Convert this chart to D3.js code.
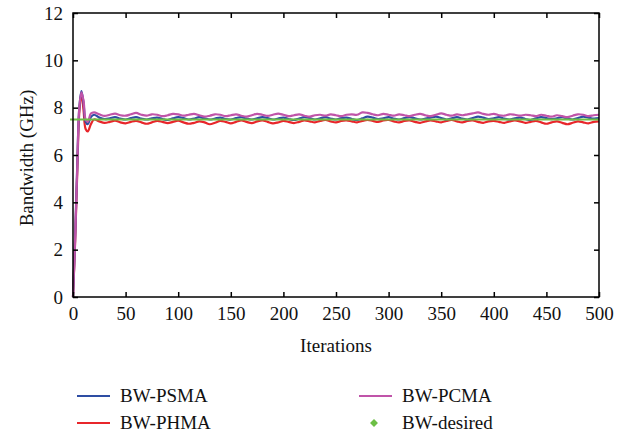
<!DOCTYPE html>
<html>
<head>
<meta charset="utf-8">
<script src="https://cdn.jsdelivr.net/npm/d3@7"></script>
<style>
  body { margin: 0; background: #fff; }
</style>
</head>
<body>
<div></div>
<script>
// iterations (x) shared by all three series
var iterations = [0, 2, 4, 6, 8, 10, 12, 14, 17, 20,
  25, 30, 35, 40, 45, 50, 55, 60, 65, 70, 75, 80, 85, 90, 95, 100,
  105, 110, 115, 120, 125, 130, 135, 140, 145, 150, 155, 160, 165, 170, 175, 180,
  185, 190, 195, 200, 205, 210, 215, 220, 225, 230, 235, 240, 245, 250, 255, 260,
  265, 270, 275, 280, 285, 290, 295, 300, 305, 310, 315, 320, 325, 330, 335, 340,
  345, 350, 355, 360, 365, 370, 375, 380, 385, 390, 395, 400, 405, 410, 415, 420,
  425, 430, 435, 440, 445, 450, 455, 460, 465, 470, 475, 480, 485, 490, 495, 500];

var bwPSMA = [0, 2.5, 5.5, 8.0, 8.7, 8.2, 7.4, 7.3, 7.6, 7.7,
  7.58, 7.52, 7.55, 7.60, 7.54, 7.50, 7.56, 7.60, 7.54, 7.50, 7.55, 7.58, 7.52, 7.48, 7.55, 7.60,
  7.56, 7.50, 7.54, 7.60, 7.55, 7.50, 7.54, 7.58, 7.52, 7.50, 7.56, 7.60, 7.54, 7.50, 7.55, 7.60,
  7.56, 7.50, 7.54, 7.58, 7.52, 7.48, 7.54, 7.60, 7.56, 7.50, 7.55, 7.60, 7.54, 7.50, 7.56, 7.58,
  7.52, 7.48, 7.55, 7.62, 7.58, 7.52, 7.55, 7.60, 7.54, 7.50, 7.56, 7.60, 7.55, 7.50, 7.54, 7.58,
  7.62, 7.56, 7.50, 7.55, 7.60, 7.54, 7.50, 7.56, 7.62, 7.58, 7.52, 7.55, 7.60, 7.54, 7.50, 7.55,
  7.58, 7.52, 7.48, 7.55, 7.60, 7.56, 7.52, 7.55, 7.60, 7.54, 7.50, 7.56, 7.62, 7.58, 7.54, 7.56];

var bwPHMA = [0, 2.3, 5.2, 7.8, 8.6, 7.9, 7.1, 7.0, 7.3, 7.5,
  7.42, 7.36, 7.40, 7.45, 7.38, 7.34, 7.40, 7.44, 7.38, 7.32, 7.38, 7.44, 7.40, 7.35, 7.40, 7.45,
  7.38, 7.32, 7.36, 7.42, 7.38, 7.30, 7.36, 7.44, 7.40, 7.34, 7.40, 7.46, 7.40, 7.35, 7.42, 7.46,
  7.40, 7.34, 7.38, 7.44, 7.40, 7.35, 7.40, 7.46, 7.42, 7.38, 7.44, 7.48, 7.42, 7.38, 7.44, 7.46,
  7.42, 7.38, 7.44, 7.48, 7.44, 7.40, 7.46, 7.48, 7.42, 7.38, 7.44, 7.46, 7.40, 7.36, 7.42, 7.46,
  7.42, 7.38, 7.44, 7.48, 7.42, 7.38, 7.44, 7.46, 7.40, 7.36, 7.42, 7.44, 7.40, 7.36, 7.42, 7.46,
  7.42, 7.36, 7.40, 7.44, 7.38, 7.32, 7.38, 7.42, 7.36, 7.30, 7.36, 7.42, 7.38, 7.34, 7.40, 7.42];

var bwPCMA = [0, 2.4, 5.4, 8.0, 8.65, 8.3, 7.5, 7.4, 7.75, 7.8,
  7.72, 7.65, 7.70, 7.75, 7.68, 7.66, 7.72, 7.78, 7.70, 7.66, 7.72, 7.70, 7.64, 7.68, 7.74, 7.72,
  7.66, 7.70, 7.74, 7.68, 7.62, 7.66, 7.72, 7.70, 7.64, 7.68, 7.72, 7.66, 7.62, 7.68, 7.74, 7.70,
  7.65, 7.70, 7.75, 7.70, 7.64, 7.68, 7.72, 7.66, 7.62, 7.68, 7.70, 7.66, 7.72, 7.68, 7.64, 7.70,
  7.72, 7.70, 7.80, 7.78, 7.72, 7.68, 7.74, 7.70, 7.66, 7.72, 7.68, 7.64, 7.70, 7.74, 7.68, 7.64,
  7.70, 7.76, 7.70, 7.66, 7.72, 7.68, 7.72, 7.76, 7.80, 7.74, 7.70, 7.74, 7.68, 7.66, 7.72, 7.70,
  7.66, 7.70, 7.68, 7.64, 7.70, 7.66, 7.62, 7.68, 7.64, 7.60, 7.66, 7.72, 7.70, 7.64, 7.68, 7.70];

var bwDesired = 7.5;

var xTicks = [0, 50, 100, 150, 200, 250, 300, 350, 400, 450, 500];
var yTicks = [0, 2, 4, 6, 8, 10, 12];

var serif = "Liberation Serif";
var fs = 19;

// set the dimensions and margins of the graph
var margin = {top: 13, right: 34, bottom: 141, left: 73},
    width = 599 - margin.left,
    height = 297 - margin.top;

var x = d3.scaleLinear().domain([0, 500]).range([0, width]);
var y = d3.scaleLinear().domain([0, 12]).range([height, 0]);

var svg = d3.select("body").select("div").append("svg")
    .attr("width", 632)
    .attr("height", 438);

var g = svg.append("g")
    .attr("transform", "translate(" + margin.left + "," + margin.top + ")");

// define the line
var valueline = d3.line()
    .curve(d3.curveCatmullRom)
    .x(function(d) { return x(d[0]); })
    .y(function(d) { return y(d[1]); });

function pairs(vals) {
  return iterations.map(function(it, i) { return [it, vals[i]]; });
}

var series = [
  {name: "BW-PSMA", values: bwPSMA, color: "#2e4da3"},
  {name: "BW-PHMA", values: bwPHMA, color: "#e8262b"},
  {name: "BW-PCMA", values: bwPCMA, color: "#c054a9"}
];

// draw order: red under blue, violet on top, green last
[series[1], series[0], series[2]].forEach(function(s) {
  g.append("path")
    .datum(pairs(s.values))
    .attr("fill", "none")
    .attr("stroke", s.color)
    .attr("stroke-width", 2.2)
    .attr("d", valueline);
});

g.append("line")
  .attr("x1", x(0) - 3).attr("x2", x(500))
  .attr("y1", y(bwDesired)).attr("y2", y(bwDesired))
  .attr("stroke", "#6cbf45")
  .attr("stroke-width", 2);

// axes (ticks inside, mirrored on top and right)
var tl = 5;
function styleAxis(a) {
  a.select(".domain").remove();
  a.selectAll("text").attr("font-size", fs).attr("fill", "#111").style("font-family", serif);
}

g.append("g")
  .attr("transform", "translate(0," + height + ")")
  .call(d3.axisBottom(x).tickValues(xTicks).tickSize(-tl).tickPadding(10))
  .call(styleAxis);

g.append("g")
  .call(d3.axisLeft(y).tickValues(yTicks).tickSize(-tl).tickPadding(10))
  .call(styleAxis);

g.append("g")
  .call(d3.axisTop(x).tickValues(xTicks).tickSize(-tl).tickFormat(""))
  .call(styleAxis);

g.append("g")
  .attr("transform", "translate(" + width + ",0)")
  .call(d3.axisRight(y).tickValues(yTicks).tickSize(-tl).tickFormat(""))
  .call(styleAxis);

g.selectAll(".tick line").attr("stroke", "#000").attr("stroke-width", 1.5);

g.append("rect")
  .attr("width", width).attr("height", height)
  .attr("fill", "none").attr("stroke", "#000").attr("stroke-width", 1.5);

// axis titles
svg.append("text")
  .attr("x", margin.left + width / 2).attr("y", 352)
  .attr("text-anchor", "middle").attr("font-size", fs)
  .style("font-family", serif).attr("fill", "#111")
  .text("Iterations");

svg.append("text")
  .attr("transform", "translate(33,158) rotate(-90)")
  .attr("text-anchor", "middle").attr("font-size", fs)
  .style("font-family", serif).attr("fill", "#111")
  .text("Bandwidth (GHz)");

// legend
var legendItems = [
  {name: "BW-PSMA", color: "#2e4da3", lx: 77, ly: 396, type: "line"},
  {name: "BW-PHMA", color: "#e8262b", lx: 77, ly: 423, type: "line"},
  {name: "BW-PCMA", color: "#c054a9", lx: 359, ly: 396, type: "line"},
  {name: "BW-desired", color: "#6cbf45", lx: 359, ly: 423, type: "diamond"}
];

legendItems.forEach(function(d) {
  if (d.type == "line") {
    svg.append("line")
      .attr("x1", d.lx).attr("x2", d.lx + 33)
      .attr("y1", d.ly).attr("y2", d.ly)
      .attr("stroke", d.color).attr("stroke-width", 2);
  } else {
    svg.append("path")
      .attr("transform", "translate(" + (d.lx + 15) + "," + d.ly + ")")
      .attr("d", d3.symbol().type(d3.symbolDiamond2).size(40))
      .attr("fill", d.color);
  }
  svg.append("text")
    .attr("x", d.lx + 43).attr("y", d.ly + 6)
    .attr("font-size", fs)
    .style("font-family", serif).attr("fill", "#111")
    .text(d.name);
});
</script>
</body>
</html>
